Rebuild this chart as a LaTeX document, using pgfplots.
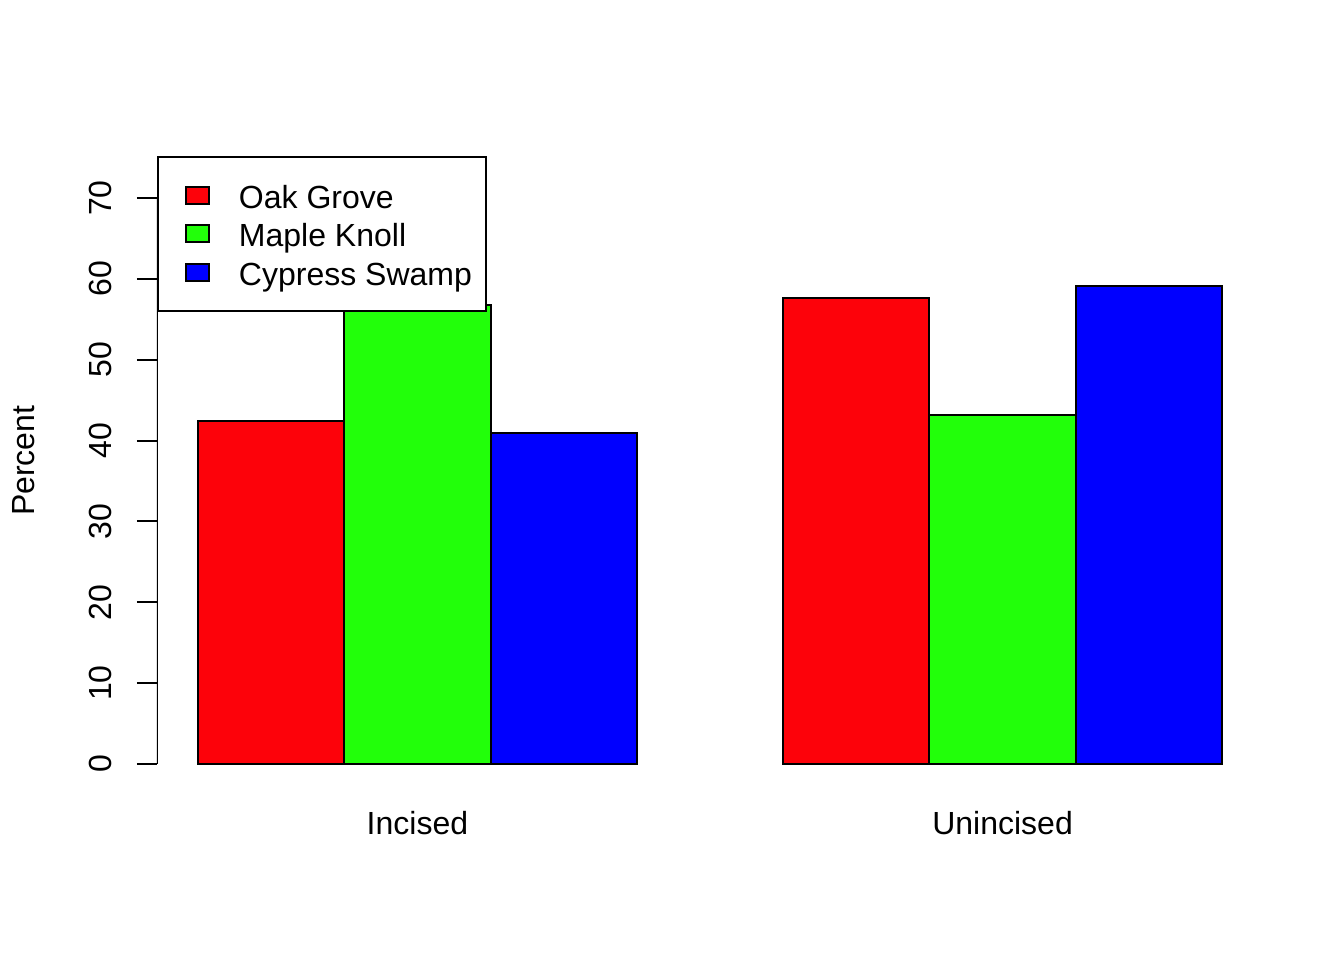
\documentclass[border=0pt]{standalone}
\usepackage{fontspec}
\setmainfont{Liberation Sans}
\usepackage{pgfplots}
\pgfplotsset{compat=1.18}
\definecolor{rred}{RGB}{253,2,10}
\definecolor{rgreen}{RGB}{34,255,10}
\definecolor{rblue}{RGB}{0,0,255}
\begin{document}
\begin{tikzpicture}[font=\fontsize{12}{14.4}\selectfont]
\useasboundingbox (-58.875pt,-64.4pt) rectangle ++(504pt,360pt);
\begin{axis}[
  at={(0,0)}, anchor=south west,
  scale only axis, width=414.75pt, height=245.6pt,
  xmin=0.72, xmax=8.28, ymin=-3, ymax=78,
  axis lines*=left,
  axis line style={draw=none},
  ybar,
  ytick={0,10,...,70},
  xtick={2.5,6.5}, xticklabels={Incised,Unincised},
  xtick style={draw=none},
  ytick style={black, line width=0.75pt},
  tick align=outside, major tick length=7.5pt,
  /pgf/number format/assume math mode=true,
  yticklabel style={rotate=90, anchor=base, inner sep=0pt, yshift=9.4pt},
  xticklabel style={anchor=base, inner sep=0pt, yshift=-9.9pt},
  every axis y label/.style={at={(axis description cs:0,0.5)}, xshift=-45.75pt, rotate=90, anchor=base, inner sep=0pt},
  ylabel={Percent},
  legend style={at={(axis cs:0.72,75.25)}, anchor=north west, draw=black, fill=white,
    line width=0.75pt, inner xsep=5.25pt, inner ysep=7.22pt, row sep=0pt,
    nodes={inner sep=0pt, text height=12.22pt, text depth=2.22pt},
    /tikz/every odd column/.append style={column sep=10.875pt}},
  legend cell align=left,
  legend image code/.code={\path (0pt,0pt); \draw[#1, draw=black, line width=0.75pt] (4.85pt,-3.2pt) rectangle (13.5pt,3.2pt);},
]
\addplot[fill=rred, draw=black, line width=0.75pt, bar width=1, bar shift=0pt] coordinates {(1.5,42.4) (5.5,57.6)};
\addplot[fill=rgreen, draw=black, line width=0.75pt, bar width=1, bar shift=0pt] coordinates {(2.5,56.8) (6.5,43.2)};
\addplot[fill=rblue, draw=black, line width=0.75pt, bar width=1, bar shift=0pt] coordinates {(3.5,40.9) (7.5,59.1)};
\legend{Oak Grove, Maple Knoll, Cypress Swamp}
\draw[line width=0.75pt] (axis cs:0.72,0) -- (axis cs:0.72,70);
\end{axis}
\end{tikzpicture}
\end{document}
